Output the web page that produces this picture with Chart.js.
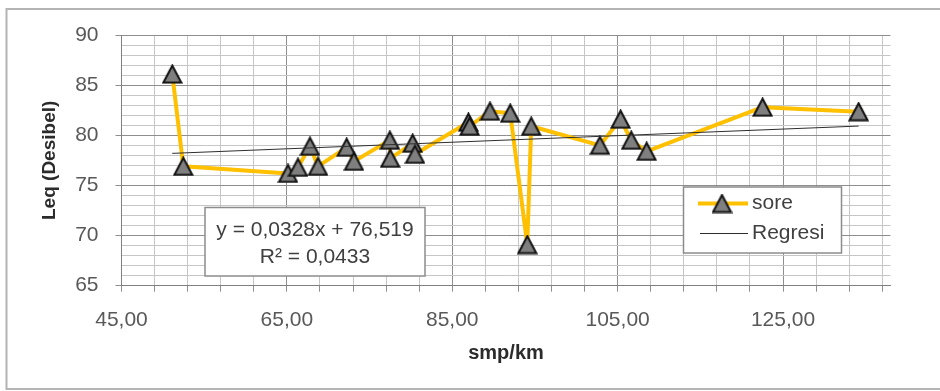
<!DOCTYPE html>
<html>
<head>
<meta charset="utf-8">
<script src="https://cdn.jsdelivr.net/npm/chart.js@4.4.1/dist/chart.umd.min.js"></script>
<style>
  html, body { margin: 0; padding: 0; background: #ffffff; }
  #wrap { position: relative; width: 940px; height: 391px; }
</style>
</head>
<body>
<div id="wrap"><canvas id="chart" width="940" height="391"></canvas></div>
<script>
// Traffic density (smp/km) against equivalent noise level Leq (dB), evening ("sore") samples
const densityValues = [51.14, 52.47, 65.13, 66.34, 67.79, 68.76, 72.23, 73.11, 77.45, 77.50,
                       80.21, 80.49, 86.95, 87.10, 89.56, 92.01, 94.07, 94.55, 102.86, 105.36,
                       106.64, 108.51, 122.53, 134.14];
const leqValues     = [86.1, 76.9, 76.2, 76.8, 78.9, 76.9, 78.8, 77.4, 79.5, 77.7,
                       79.2, 78.1, 81.3, 80.9, 82.4, 82.2, 69.1, 80.9, 79.0, 81.6,
                       79.5, 78.4, 82.8, 82.35];

// Linear regression reported for the series
const SLOPE = 0.0328;
const INTERCEPT = 76.519;
const R_SQUARED = 0.0433;

const seriesLabel = 'sore';
const trendLabel = 'Regresi';
const xTitle = 'smp/km';
const yTitle = 'Leq (Desibel)';

const xMin = 45, xMax = 138, xMajor = 20, xMinor = 4;
const yMin = 65, yMax = 90, yMajor = 5, yMinor = 1;

const FONT = "'Liberation Sans', Arial, sans-serif";
const GOLD = '#FFC000';
const MAJOR_GRID = '#8e8e8e';
const MINOR_GRID = '#c6c6c6';

const fmt = (v, d) => v.toFixed(d).replace('.', ',');

// Triangle marker, centred in its own box
function makeTriangle(w, h) {
  const c = document.createElement('canvas');
  c.width = w + 3; c.height = h + 3;
  const g = c.getContext('2d');
  g.beginPath();
  g.moveTo(c.width / 2, 1.5);
  g.lineTo(c.width - 1.5, c.height - 1.5);
  g.lineTo(1.5, c.height - 1.5);
  g.closePath();
  g.fillStyle = '#7f7f7f';
  g.fill();
  g.lineWidth = 2;
  g.lineJoin = 'miter';
  g.strokeStyle = '#111111';
  g.stroke();
  return c;
}
const triangle = makeTriangle(18, 17);

const points = densityValues.map((x, i) => ({ x, y: leqValues[i] }));
const xLo = Math.min(...densityValues), xHi = Math.max(...densityValues);
const trendPoints = [xLo, xHi].map(x => ({ x, y: SLOPE * x + INTERCEPT }));

const xTickValues = [];
for (let v = xMin; v < xMax; v += xMinor) xTickValues.push(v);
const isXMajor = v => (v - xMin) % xMajor === 0;
const isYMajor = v => (v - yMin) % yMajor === 0;

// Frame, equation box and legend box
const overlay = {
  id: 'overlay',
  beforeDraw(chart) {
    const ctx = chart.ctx;
    ctx.save();
    ctx.fillStyle = '#ffffff';
    ctx.fillRect(0, 0, chart.width, chart.height);
    ctx.strokeStyle = '#b4b4b4';
    ctx.lineWidth = 2;
    ctx.beginPath();
    ctx.moveTo(chart.width + 5, 9);
    ctx.lineTo(6.5, 9);
    ctx.lineTo(6.5, 389);
    ctx.lineTo(chart.width + 5, 389);
    ctx.stroke();
    ctx.restore();
  },
  afterDraw(chart) {
    const ctx = chart.ctx;
    ctx.save();
    // regression equation
    ctx.fillStyle = '#ffffff';
    ctx.strokeStyle = '#8c8c8c';
    ctx.lineWidth = 1.5;
    ctx.fillRect(205, 207.5, 220, 68.5);
    ctx.strokeRect(205, 207.5, 220, 68.5);
    ctx.fillStyle = '#404040';
    ctx.font = '21px ' + FONT;
    ctx.textAlign = 'center';
    ctx.textBaseline = 'middle';
    ctx.fillText('y = ' + fmt(SLOPE, 4) + 'x + ' + fmt(INTERCEPT, 3), 315, 230);
    ctx.fillText('R² = ' + fmt(R_SQUARED, 4), 315, 257);

    // legend
    const ds = chart.data.datasets;
    ctx.fillStyle = '#ffffff';
    ctx.fillRect(683.5, 187, 158, 66);
    ctx.strokeRect(683.5, 187, 158, 66);
    ctx.lineCap = 'butt';
    ctx.strokeStyle = ds[1].borderColor;
    ctx.lineWidth = ds[1].borderWidth;
    ctx.beginPath(); ctx.moveTo(698, 203.5); ctx.lineTo(748, 203.5); ctx.stroke();
    ctx.drawImage(triangle, 722 - triangle.width / 2, 203.5 - triangle.height / 2);
    ctx.strokeStyle = ds[0].borderColor;
    ctx.lineWidth = ds[0].borderWidth;
    ctx.beginPath(); ctx.moveTo(700, 233.5); ctx.lineTo(748, 233.5); ctx.stroke();
    ctx.fillStyle = '#404040';
    ctx.textAlign = 'left';
    ctx.fillText(ds[1].label, 752, 203);
    ctx.fillText(ds[0].label, 752, 233);
    ctx.restore();
  }
};

new Chart(document.getElementById('chart'), {
  type: 'scatter',
  data: {
    datasets: [
      {
        label: trendLabel,
        data: trendPoints,
        showLine: true,
        borderColor: '#2e2e2e',
        borderWidth: 1,
        pointRadius: 0,
        tension: 0
      },
      {
        label: seriesLabel,
        data: points,
        showLine: true,
        borderColor: GOLD,
        backgroundColor: '#7f7f7f',
        borderWidth: 4,
        borderJoinStyle: 'round',
        pointStyle: triangle,
        pointRadius: 9,
        tension: 0
      }
    ]
  },
  plugins: [overlay],
  options: {
    responsive: false,
    animation: false,
    devicePixelRatio: 1,
    layout: { padding: { left: 0, top: 35, right: 49.5, bottom: 0 } },
    plugins: { legend: { display: false }, tooltip: { enabled: false } },
    scales: {
      x: {
        type: 'linear',
        min: xMin,
        max: xMax,
        afterBuildTicks: s => { s.ticks = xTickValues.map(v => ({ value: v })); },
        afterFit: s => { s.height = 105.3; },
        grid: {
          color: c => isXMajor(c.tick.value) ? MAJOR_GRID : MINOR_GRID,
          tickColor: MAJOR_GRID,
          tickLength: 6,
          lineWidth: 1
        },
        border: { color: '#808080', width: 1 },
        ticks: {
          autoSkip: false,
          maxRotation: 0,
          padding: 16,
          color: '#595959',
          font: { family: FONT, size: 21 },
          callback: v => isXMajor(v) ? fmt(v, 2) : ''
        },
        title: {
          display: true,
          text: xTitle,
          color: '#2b2b2b',
          font: { family: FONT, size: 20, weight: 'bold' },
          padding: { top: 0, bottom: 26 }
        }
      },
      y: {
        type: 'linear',
        min: yMin,
        max: yMax,
        afterFit: s => { s.width = 121.5; },
        ticks: {
          stepSize: yMinor,
          autoSkip: false,
          padding: 17,
          color: '#595959',
          font: { family: FONT, size: 21 },
          callback: v => isYMajor(v) ? String(v) : ''
        },
        grid: {
          color: c => isYMajor(c.tick.value) ? MAJOR_GRID : MINOR_GRID,
          tickColor: c => isYMajor(c.tick.value) ? MAJOR_GRID : 'rgba(0,0,0,0)',
          tickLength: 6,
          lineWidth: 1
        },
        border: { color: '#808080', width: 1 },
        title: {
          display: true,
          text: yTitle,
          color: '#2b2b2b',
          font: { family: FONT, size: 19, weight: 'bold' },
          padding: { top: 38.6, bottom: 0 }
        }
      }
    }
  }
});
</script>
</body>
</html>
